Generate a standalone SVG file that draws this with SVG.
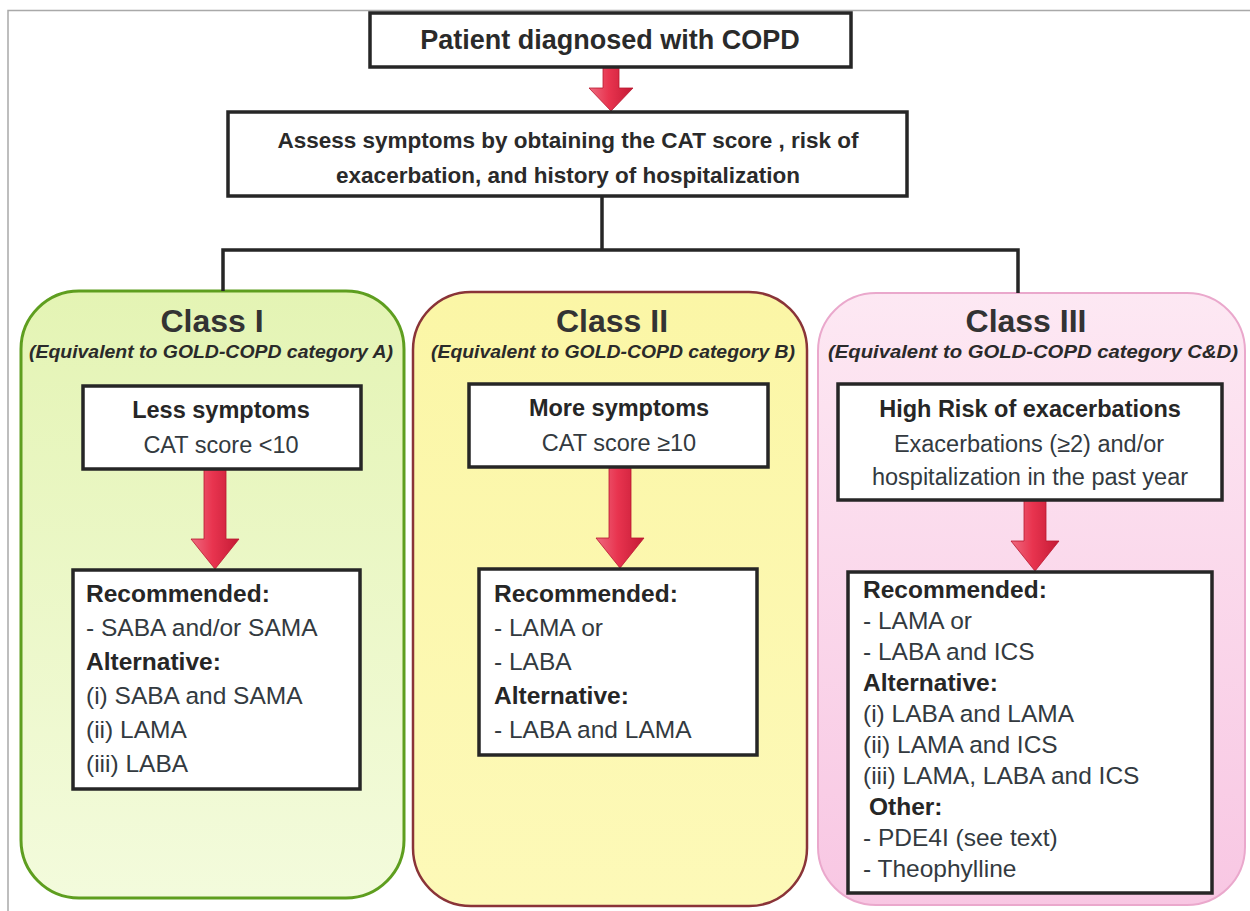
<svg xmlns="http://www.w3.org/2000/svg" width="1250" height="911" viewBox="0 0 1250 911">
  <defs>
    <style>
      .frame { fill: none; stroke: #a9a9a9; stroke-width: 1.5; }
      .box { fill: #ffffff; stroke: #262626; stroke-width: 3.5; }
      .wire { fill: none; stroke: #262626; stroke-width: 3.5; }
      .arrow { fill: url(#redArrow); stroke: #b8162f; stroke-width: 0.8; }
      .head { font-family: "Liberation Sans", Arial, sans-serif; font-weight: bold; fill: #2a2a2a; text-anchor: middle; }
      .title { font-family: "Liberation Sans", Arial, sans-serif; font-weight: bold; font-size: 32px; fill: #333333; text-anchor: middle; }
      .sub { font-family: "Liberation Sans", Arial, sans-serif; font-weight: bold; font-style: italic; font-size: 19px; fill: #2a2a2a; text-anchor: middle; }
      .txt { font-family: "Liberation Sans", Arial, sans-serif; font-size: 23.5px; fill: #333a40; }
      .list { font-size: 24.5px; }
      .b { font-weight: bold; fill: #262626; }
      .mid { text-anchor: middle; }
    </style>
    <linearGradient id="redArrow" x1="0" y1="0" x2="1" y2="0">
      <stop offset="0" stop-color="#ee6a80"/>
      <stop offset="0.45" stop-color="#e8344f"/>
      <stop offset="1" stop-color="#c41a35"/>
    </linearGradient>
    <linearGradient id="greenFill" x1="0" y1="0" x2="0" y2="1">
      <stop offset="0" stop-color="#e4f4b4"/>
      <stop offset="1" stop-color="#f3fbdc"/>
    </linearGradient>
    <linearGradient id="yellowFill" x1="0" y1="0" x2="0" y2="1">
      <stop offset="0" stop-color="#fbf6a6"/>
      <stop offset="1" stop-color="#fdf9b8"/>
    </linearGradient>
    <linearGradient id="pinkFill" x1="0" y1="0" x2="0" y2="1">
      <stop offset="0" stop-color="#fde8f3"/>
      <stop offset="1" stop-color="#f8c7e3"/>
    </linearGradient>
  </defs>

  <rect width="1250" height="911" fill="#ffffff"/>
  <!-- page frame -->
  <path class="frame" d="M8 911 V10.5 H1250"/>

  <!-- class panels -->
  <g id="class-1">
    <rect x="21" y="291" width="383" height="607" rx="58" fill="url(#greenFill)" stroke="#5e9e1f" stroke-width="3"/>
    <text class="title" x="212" y="332">Class I</text>
    <text class="sub" x="211" y="358" textLength="364" lengthAdjust="spacingAndGlyphs">(Equivalent to GOLD-COPD category A)</text>
  </g>
  <g id="class-2">
    <rect x="413" y="292" width="394" height="614" rx="58" fill="url(#yellowFill)" stroke="#8a3438" stroke-width="2.5"/>
    <text class="title" x="612" y="332">Class II</text>
    <text class="sub" x="613" y="358" textLength="364" lengthAdjust="spacingAndGlyphs">(Equivalent to GOLD-COPD category B)</text>
  </g>
  <g id="class-3">
    <rect x="818" y="293" width="427" height="612" rx="58" fill="url(#pinkFill)" stroke="#eaa8cc" stroke-width="2"/>
    <text class="title" x="1026" y="332">Class III</text>
    <text class="sub" x="1033" y="358" textLength="410" lengthAdjust="spacingAndGlyphs">(Equivalent to GOLD-COPD category C&amp;D)</text>
  </g>

  <!-- connectors -->
  <g id="connectors">
    <path class="wire" d="M602 196 V250"/>
    <path class="wire" d="M223 291 V250 H1018 V293"/>
    <path class="arrow" d="M603 67 H619 V88 H633 L611 111 L589 88 H603 Z"/>
    <path class="arrow" d="M204 469 H226 V539 H239 L215 569 L191 539 H204 Z"/>
    <path class="arrow" d="M609 467 H631 V538 H644 L620 568 L596 538 H609 Z"/>
    <path class="arrow" d="M1024 500 H1046 V541 H1059 L1035 571 L1011 541 H1024 Z"/>
  </g>

  <g id="diagnosed">
    <rect class="box" x="370" y="13" width="481" height="54"/>
    <text class="head" x="610" y="49" font-size="27">Patient diagnosed with COPD</text>
  </g>

  <g id="assess">
    <rect class="box" x="228" y="112" width="679" height="84"/>
    <text class="head" x="568" y="148" font-size="22.5">Assess symptoms by obtaining the CAT score , risk of</text>
    <text class="head" x="568" y="183" font-size="22.5">exacerbation, and history of hospitalization</text>
  </g>

  <g id="less-symptoms">
    <rect class="box" x="83" y="386" width="278" height="83"/>
    <text class="txt b mid" x="221" y="418">Less symptoms</text>
    <text class="txt mid" x="221" y="453">CAT score &lt;10</text>
  </g>

  <g id="more-symptoms">
    <rect class="box" x="469" y="384" width="299" height="83"/>
    <text class="txt b mid" x="619" y="416">More symptoms</text>
    <text class="txt mid" x="619" y="451">CAT score ≥10</text>
  </g>

  <g id="high-risk">
    <rect class="box" x="838" y="384" width="384" height="116"/>
    <text class="txt b mid" x="1030" y="417">High Risk of exacerbations</text>
    <text class="txt mid" x="1029" y="452">Exacerbations (≥2) and/or</text>
    <text class="txt mid" x="1030" y="485">hospitalization in the past year</text>
  </g>

  <g id="therapy-1">
    <rect class="box" x="73" y="570" width="287" height="219"/>
    <text class="txt list b" x="86" y="602">Recommended:</text>
    <text class="txt list" x="86" y="636">- SABA and/or SAMA</text>
    <text class="txt list b" x="86" y="670">Alternative:</text>
    <text class="txt list" x="86" y="704">(i) SABA and SAMA</text>
    <text class="txt list" x="86" y="738">(ii) LAMA</text>
    <text class="txt list" x="86" y="772">(iii) LABA</text>
  </g>

  <g id="therapy-2">
    <rect class="box" x="479" y="569" width="278" height="186"/>
    <text class="txt list b" x="494" y="602">Recommended:</text>
    <text class="txt list" x="494" y="636">- LAMA or</text>
    <text class="txt list" x="494" y="670">- LABA</text>
    <text class="txt list b" x="494" y="704">Alternative:</text>
    <text class="txt list" x="494" y="738">- LABA and LAMA</text>
  </g>

  <g id="therapy-3">
    <rect class="box" x="848" y="572" width="364" height="321"/>
    <text class="txt list b" x="863" y="598">Recommended:</text>
    <text class="txt list" x="863" y="629">- LAMA or</text>
    <text class="txt list" x="863" y="660">- LABA and ICS</text>
    <text class="txt list b" x="863" y="691">Alternative:</text>
    <text class="txt list" x="863" y="722">(i) LABA and LAMA</text>
    <text class="txt list" x="863" y="753">(ii) LAMA and ICS</text>
    <text class="txt list" x="863" y="784">(iii) LAMA, LABA and ICS</text>
    <text class="txt list b" x="869" y="815">Other:</text>
    <text class="txt list" x="863" y="846">- PDE4I (see text)</text>
    <text class="txt list" x="863" y="877">- Theophylline</text>
  </g>
</svg>
